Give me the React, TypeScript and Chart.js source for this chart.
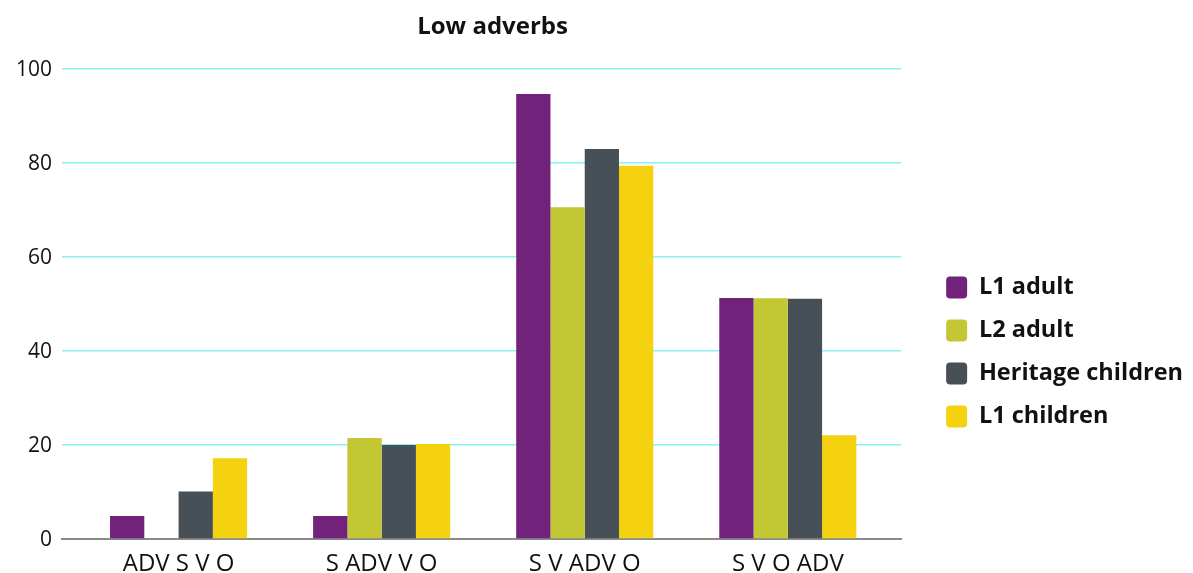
import React, { useEffect, useRef } from "react";
import { Chart, registerables } from "chart.js";

Chart.register(...registerables);

const titleText = "Low adverbs";
const categories = ["ADV S V O", "S ADV V O", "S V ADV O", "S V O ADV"];
const seriesNames = ["L1 adult", "L2 adult", "Heritage children", "L1 children"];
const l1Adult = [4.9, 4.9, 94.7, 51.3];
const l2Adult = [0, 21.5, 70.6, 51.2];
const heritageChildren = [10.1, 20.0, 83.0, 51.1];
const l1Children = [17.2, 20.2, 79.4, 22.1];
const yTicks = [0, 20, 40, 60, 80, 100];

const colors = ["#71237b", "#c3c733", "#474f57", "#f4d20f"];
const seriesValues = [l1Adult, l2Adult, heritageChildren, l1Children];

const titlePlugin = {
  id: "offsetTitle",
  afterDraw(chart: any) {
    const { ctx, chartArea } = chart;
    ctx.save();
    ctx.font = "bold 24px 'Open Sans', sans-serif";
    ctx.fillStyle = "#111";
    ctx.textAlign = "center";
    ctx.textBaseline = "middle";
    ctx.fillText(titleText, (chartArea.left + chartArea.right) / 2 + 11, 27);
    ctx.restore();
  },
};

export default function App() {
  const ref = useRef<HTMLCanvasElement | null>(null);

  useEffect(() => {
    document.body.style.margin = "0";
    Chart.defaults.font.family = "'Open Sans', sans-serif";
    const canvas = ref.current;
    if (!canvas) return;
    const chart = new Chart(canvas, {
      type: "bar",
      data: {
        datasets: seriesValues.map((vals, si) => ({
          label: seriesNames[si],
          data: vals.map((v, i) => ({ x: i, y: v })),
          backgroundColor: colors[si],
          borderWidth: 0,
          categoryPercentage: 0.675,
          barPercentage: 1,
        })),
      },
      plugins: [titlePlugin],
      options: {
        responsive: false,
        animation: false,
        layout: { padding: { top: 69, left: 0, right: 0, bottom: 0 } },
        plugins: {
          title: { display: false },
          legend: {
            display: true,
            position: "right",
            align: "center",
            title: {
              display: true,
              text: " ",
              font: { size: 12 },
              padding: { top: 47.6, bottom: 0 },
            },
            labels: {
              boxWidth: 21,
              boxHeight: 22,
              padding: 19.5,
              useBorderRadius: true,
              borderRadius: 4,
              color: "#111",
              font: { size: 23.5, weight: "bold" },
            },
          },
          tooltip: { enabled: false },
        },
        scales: {
          x: {
            type: "linear",
            bounds: "data",
            offset: false,
            min: -0.574,
            max: 3.558,
            grid: { display: false, drawTicks: false },
            border: { display: true, color: "#8a8a8a", width: 2 },
            ticks: {
              autoSkip: false,
              maxRotation: 0,
              padding: 11,
              color: "#111",
              font: { size: 24 },
              callback: (v: any) =>
                Number.isInteger(v) && categories[v] !== undefined ? categories[v] : "",
            },
            afterBuildTicks: (s: any) => {
              s.ticks = categories.map((_, i) => ({ value: i }));
            },
            afterFit: (s: any) => {
              s.height = 34;
            },
          },
          y: {
            type: "linear",
            min: yTicks[0],
            max: yTicks[yTicks.length - 1],
            grid: {
              drawTicks: false,
              lineWidth: 1.5,
              color: (c: any) => (c.tick && c.tick.value === 0 ? "rgba(0,0,0,0)" : "#88f2f2"),
            },
            border: { display: false },
            ticks: {
              stepSize: 20,
              padding: 10,
              labelOffset: 1.5,
              color: "#111",
              font: { size: 21 },
            },
            afterFit: (s: any) => {
              s.width = 62;
            },
          },
          pad: {
            type: "linear",
            position: "right",
            display: false,
            grid: { display: false, drawTicks: false },
            border: { display: false },
            ticks: { display: false },
            afterFit: (s: any) => {
              s.width = 25.5;
            },
          },
        },
      } as any,
    });
    return () => chart.destroy();
  }, []);

  return (
    <div style={{ width: 1193, height: 573, position: "relative" }}>
      <canvas ref={ref} width={1193} height={573} style={{ display: "block" }} />
    </div>
  );
}
